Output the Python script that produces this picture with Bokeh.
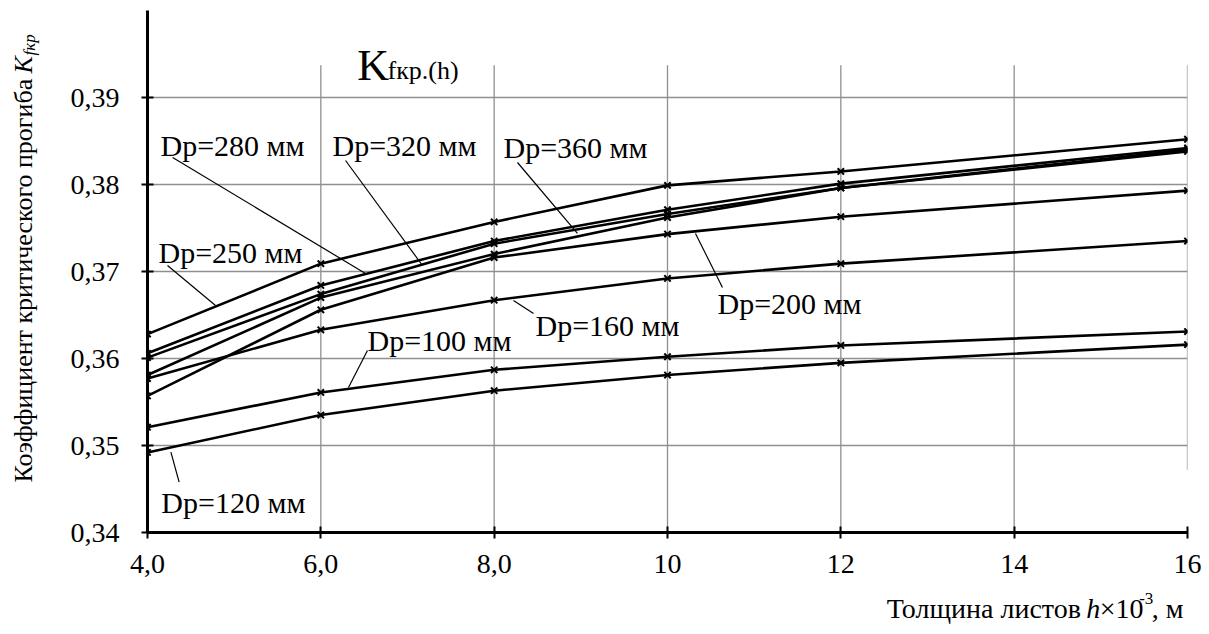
import math
from bokeh.plotting import figure
from bokeh.models import Label, FixedTicker, Range1d
from bokeh.layouts import row, column
from bokeh.embed import file_html
from bokeh.resources import INLINE

# ---- data ----
thickness = [4, 6, 8, 10, 12, 16]
dp100 = [0.3521, 0.3561, 0.3587, 0.3602, 0.3615, 0.3631]
dp120 = [0.3492, 0.3535, 0.3563, 0.3581, 0.3595, 0.3616]
dp160 = [0.3577, 0.3633, 0.3667, 0.3692, 0.3709, 0.3735]
dp200 = [0.3557, 0.3656, 0.3716, 0.3743, 0.3763, 0.3793]
dp250 = [0.3628, 0.3709, 0.3757, 0.3799, 0.3815, 0.3852]
dp280 = [0.3606, 0.3684, 0.3735, 0.3771, 0.3801, 0.3842]
dp320 = [0.3601, 0.3674, 0.3732, 0.3766, 0.3796, 0.3838]
dp360 = [0.3581, 0.3670, 0.3720, 0.3762, 0.3796, 0.3840]
series = [dp100, dp120, dp160, dp200, dp250, dp280, dp320, dp360]

x_ticks = [4, 6, 8, 10, 12, 14, 16]
x_tick_labels = ["4,0", "6,0", "8,0", "10", "12", "14", "16"]
y_ticks = [0.34, 0.35, 0.36, 0.37, 0.38, 0.39]
y_tick_labels = ["0,34", "0,35", "0,36", "0,37", "0,38", "0,39"]

# label text, text anchor (x, y), pointer start, pointer end
annotations = [
    ("Dp=280 мм", 4.15, 0.38448, (4.29, 0.38310), (6.515, 0.36977)),
    ("Dp=320 мм", 6.135, 0.38448, (6.285, 0.38276), (7.173, 0.37069)),
    ("Dp=360 мм", 8.108, 0.38425, (8.269, 0.38253), (8.961, 0.37437)),
    ("Dp=250 мм", 4.127, 0.37218, (4.231, 0.37069), (4.785, 0.36609)),
    ("Dp=200 мм", 10.577, 0.36632, (10.634, 0.36816), (10.323, 0.37437)),
    ("Dp=160 мм", 8.477, 0.36379, (8.454, 0.36517), (8.223, 0.36667)),
    ("Dp=100 мм", 6.538, 0.36207, (6.538, 0.36092), (6.319, 0.35667)),
    ("Dp=120 мм", 4.16, 0.34345, (4.365, 0.34578), (4.27, 0.34923)),
]

SERIF = "Liberation Serif"
INK = "black"

# ---------------- main plot ----------------
p = figure(width=1161, height=588,
           x_range=Range1d(4, 16), y_range=Range1d(0.34, 0.40),
           output_backend="svg", toolbar_location=None,
           min_border_left=99, min_border_right=22,
           min_border_top=10, min_border_bottom=56)
p.outline_line_color = None
p.background_fill_color = "white"
p.border_fill_color = "white"

p.xgrid.visible = False
p.ygrid.ticker = FixedTicker(ticks=y_ticks)
p.ygrid.grid_line_color = "#8f8f8f"
p.ygrid.grid_line_width = 1.3

for xv in x_ticks[1:]:
    y0 = 0.3472 if xv == 16 else 0.34
    p.segment(x0=[xv], y0=[y0], x1=[xv], y1=[0.3937],
              line_color="#8f8f8f", line_width=1.3)

for ax, ticks, labels in ((p.xaxis, x_ticks, x_tick_labels),
                          (p.yaxis, y_ticks, y_tick_labels)):
    ax.ticker = FixedTicker(ticks=ticks)
    ax.major_label_overrides = {t: l for t, l in zip(ticks, labels)}
    ax.axis_line_width = 3
    ax.axis_line_color = INK
    ax.major_tick_line_color = INK
    ax.major_tick_line_width = 2
    ax.major_tick_in = 6
    ax.major_tick_out = 6
    ax.minor_tick_line_color = None
    ax.major_label_text_font = SERIF
    ax.major_label_text_font_size = "28px"
    ax.major_label_text_color = INK
p.xaxis.major_label_standoff = 16
p.yaxis.major_label_standoff = 22

for ys in series:
    p.line(thickness, ys, line_color=INK, line_width=2.6)
    p.scatter(thickness, ys, marker="x", size=9, line_width=2, line_color=INK)

for text, tx, ty, (px0, py0), (px1, py1) in annotations:
    p.segment(x0=[px0], y0=[py0], x1=[px1], y1=[py1],
              line_color=INK, line_width=1.2)
    p.add_layout(Label(x=tx, y=ty, text=text, text_font=SERIF,
                       text_font_size="30px", text_baseline="middle",
                       text_align="left", text_color=INK))

p.add_layout(Label(x=6.42, y=0.39368, text="K", text_font=SERIF,
                   text_font_size="44px", text_baseline="alphabetic",
                   text_color=INK))
p.add_layout(Label(x=6.77, y=0.3931, text="fкр.(h)", text_font=SERIF,
                   text_font_size="26px", text_baseline="alphabetic",
                   text_color=INK))


def blank(w, h):
    f = figure(width=w, height=h, x_range=Range1d(0, w), y_range=Range1d(0, h),
               x_axis_location=None, y_axis_location=None,
               output_backend="svg", toolbar_location=None, min_border=0)
    f.outline_line_color = None
    f.grid.visible = False
    f.background_fill_color = "white"
    f.border_fill_color = "white"
    return f


def txt(fig, x, y, s, size, italic=False, align="left", angle=0.0):
    fig.add_layout(Label(x=x, y=y, text=s, text_font=SERIF,
                         text_font_size=size, text_color=INK,
                         text_font_style="italic" if italic else "normal",
                         text_baseline="alphabetic", text_align=align,
                         angle=angle))


# ---------------- x axis title ----------------
xt = blank(1161, 46)
bl = 26
H = 1048
txt(xt, H - 6, bl, "Толщина листов", "28px", align="right")
txt(xt, H, bl, "h", "28px", italic=True)
txt(xt, H + 15, bl, "×10", "28px")
txt(xt, H + 59, bl + 10, "-3", "17px")
txt(xt, H + 73, bl, ", м", "28px")

# ---------------- y axis title ----------------
yt = blank(48, 634)
yb = 23
ys0 = 152
txt(yt, yb, ys0, "Коэффициент критического прогиба", "26px", angle=math.pi / 2)
txt(yt, yb, ys0 + 409, "K", "26px", italic=True, angle=math.pi / 2)
txt(yt, yb + 6, ys0 + 427, "fкр", "17px", italic=True, angle=math.pi / 2)

layout = row(yt, column(p, xt))
open("out.html", "w").write(file_html(layout, INLINE))
